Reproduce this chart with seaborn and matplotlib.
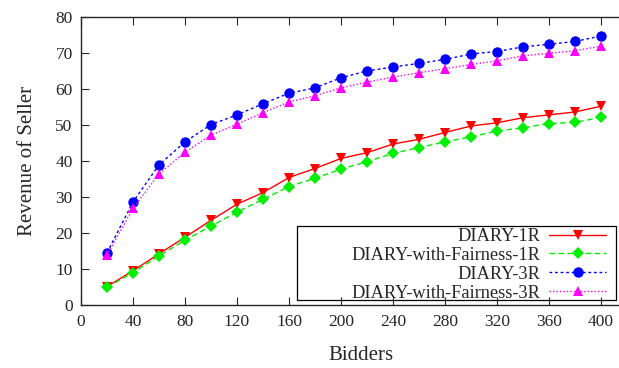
import numpy as np
import seaborn as sns
import matplotlib
matplotlib.use("Agg")
import matplotlib.pyplot as plt
from matplotlib.patches import Rectangle

bidders = [20, 40, 60, 80, 100, 120, 140, 160, 180, 200,
           220, 240, 260, 280, 300, 320, 340, 360, 380, 400]
diary_1r = [5.2, 9.6, 14.3, 18.9, 23.6, 28.1, 31.3, 35.5, 38.0, 40.8,
            42.4, 44.8, 46.1, 48.0, 49.8, 50.7, 52.1, 52.9, 53.7, 55.3]
fair_1r = [5.0, 9.1, 13.7, 18.1, 22.0, 25.9, 29.4, 33.0, 35.3, 37.8,
           39.9, 42.2, 43.8, 45.4, 46.8, 48.4, 49.3, 50.5, 50.8, 52.2]
diary_3r = [14.6, 28.7, 39.0, 45.4, 50.2, 52.9, 56.0, 58.9, 60.4, 63.2,
            65.1, 66.2, 67.2, 68.3, 69.8, 70.5, 71.8, 72.5, 73.3, 74.8]
fair_3r = [14.0, 26.9, 36.5, 42.5, 47.3, 50.3, 53.5, 56.5, 58.2, 60.4,
           62.0, 63.4, 64.6, 65.7, 66.9, 67.9, 69.3, 70.0, 70.7, 72.0]

sns.set_style("ticks")
plt.rcParams['font.family'] = ['Liberation Serif', 'DejaVu Serif']
plt.rcParams['savefig.bbox'] = 'standard'

fig = plt.figure(figsize=(6.19, 3.68), dpi=100)
right_px = 640
ax_w = right_px - 81
ax = fig.add_axes([81 / 619, 1 - 305.3 / 368, ax_w / 619, 288 / 368])

series = [
    ("DIARY-1R", diary_1r, "#ff0000", "v", "-", 7.5),
    ("DIARY-with-Fairness-1R", fair_1r, "#00ee00", "D", (0, (4, 2.5)), 6.5),
    ("DIARY-3R", diary_3r, "#0000ff", "o", (0, (2, 2)), 7.5),
    ("DIARY-with-Fairness-3R", fair_3r, "#ff00ff", "^", (0, (1, 1.5)), 7.5),
]
for name, vals, col, mk, ls, ms in series:
    sns.lineplot(x=bidders, y=vals, ax=ax, color=col, marker=mk, linestyle=ls,
                 markersize=ms, markeredgewidth=0, linewidth=1.0, label=name)

ax.set_xlim(0, ax_w / 1.3)
ax.set_ylim(0, 80)
ax.set_xticks(np.arange(0, 401, 40))
ax.set_yticks(np.arange(0, 81, 10))
ax.tick_params(direction='in', length=5.5, width=0.8, labelsize=12.5,
               top=True, right=False, pad=6)
for s in ax.spines.values():
    s.set_linewidth(1.0)
ax.spines['right'].set_visible(False)
ax.set_xlabel("Bidders", fontsize=15, labelpad=12)
ax.set_ylabel("Revenue of Seller", fontsize=15, labelpad=13)

# legend: text right-aligned, sample on the right, gnuplot-style box
leg = ax.legend(loc='lower right',
                bbox_to_anchor=((606 - 81) / ax_w, (305.3 - 301.5) / 288),
                markerfirst=False, fontsize=13.2, handlelength=3.1, labelspacing=0.1,
                borderpad=0, handletextpad=0.5, frameon=False, borderaxespad=0)
for col in leg._legend_handle_box.get_children():
    col.align = 'right'
ax.add_patch(Rectangle(((297 - 81) / ax_w, (305.3 - 299.5) / 288),
                       (616 - 297) / ax_w, (299.5 - 226) / 288,
                       transform=ax.transAxes, fill=False, edgecolor='black',
                       linewidth=0.9, zorder=5, clip_on=False))

fig.savefig("out.png", dpi=100)
